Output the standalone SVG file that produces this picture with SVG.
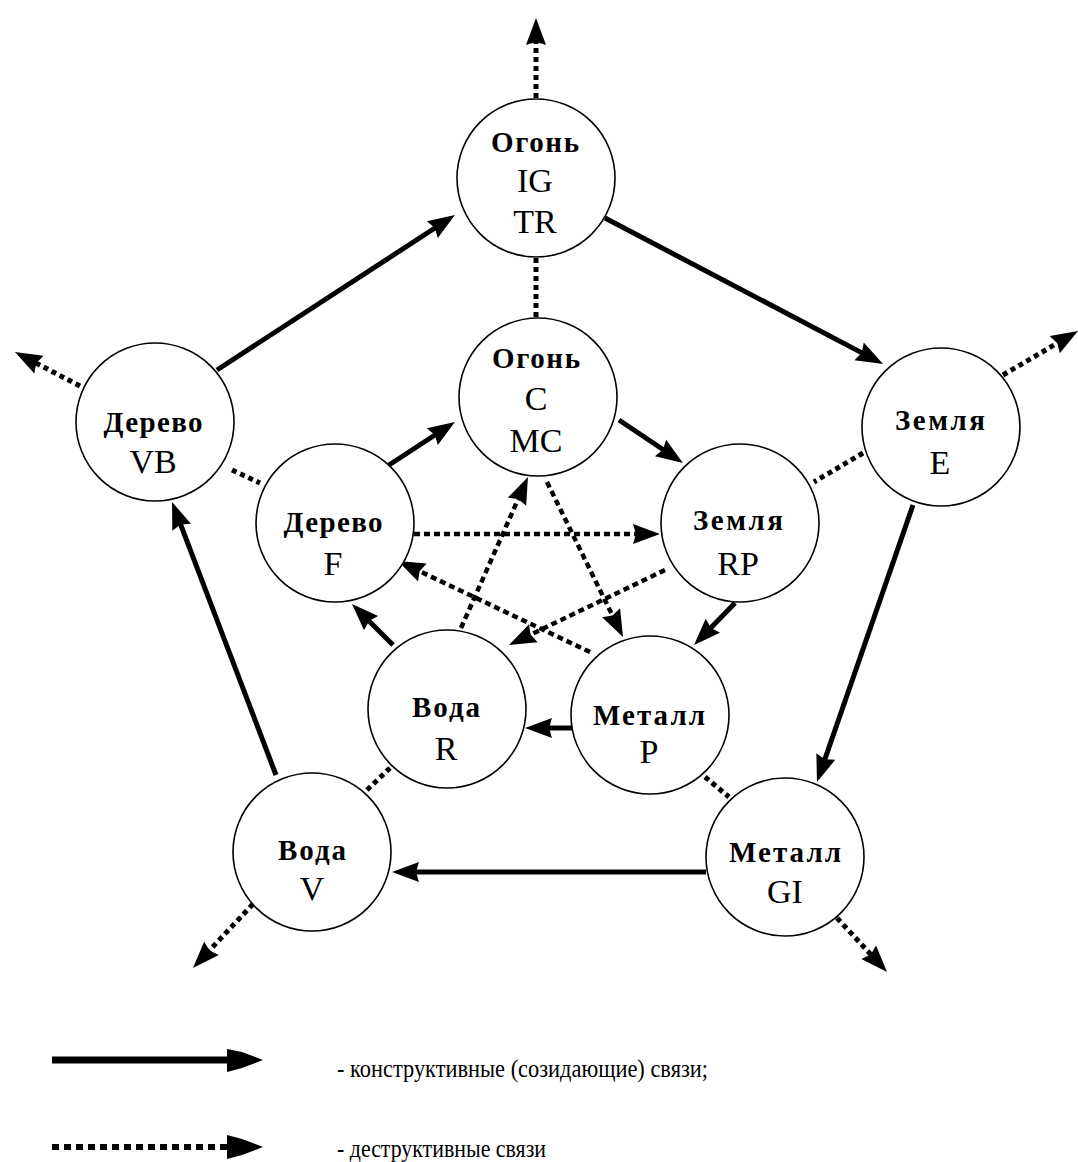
<svg xmlns="http://www.w3.org/2000/svg" width="1078" height="1162" viewBox="0 0 1078 1162">
<style>
.node circle{fill:#fff;stroke:#000;stroke-width:1.6}
.nm{font-family:"Liberation Serif","DejaVu Serif",serif;font-weight:bold;font-size:29px;text-anchor:middle;fill:#000}
.cd{font-family:"Liberation Serif","DejaVu Serif",serif;font-size:34px;text-anchor:middle;fill:#000}
.lg{font-family:"Liberation Serif","DejaVu Serif",serif;font-size:25px;fill:#000}
.s{stroke:#000;stroke-width:5;fill:none;marker-end:url(#ah)}
.d{stroke:#000;stroke-width:5;fill:none;stroke-dasharray:5 4}
.da{stroke:#000;stroke-width:5;fill:none;stroke-dasharray:5 4;marker-end:url(#ah)}
.di{stroke:#000;stroke-width:4.5;fill:none;stroke-dasharray:6 4;marker-end:url(#ah)}
</style>
<defs>
<marker id="ah" viewBox="-30 -12 32 24" refX="-12" refY="0" markerWidth="32" markerHeight="24" markerUnits="userSpaceOnUse" orient="auto">
<path d="M0,0 L-27,-10 L-24,0 L-27,10 Z" fill="#000"/>
</marker>
</defs>
<rect width="1078" height="1162" fill="#fff"/>
<g id="connectors">
<line class="s" x1="217" y1="370" x2="444.9" y2="221.5"/>
<line class="s" x1="605" y1="218" x2="872.4" y2="358.4"/>
<line class="s" x1="913" y1="505" x2="820.9" y2="770.7"/>
<line class="s" x1="706" y1="872" x2="404" y2="872"/>
<line class="s" x1="276" y1="775" x2="176.3" y2="513.2"/>
<line class="s" x1="389" y1="465" x2="444.9" y2="428.5"/>
<line class="s" x1="619" y1="420" x2="673" y2="456.3"/>
<line class="s" x1="735" y1="603" x2="702.4" y2="636.4"/>
<line class="s" x1="573" y1="728" x2="537" y2="728"/>
<line class="s" x1="393" y1="645" x2="360.5" y2="612.5"/>
<line class="di" x1="414" y1="534" x2="648" y2="534"/>
<line class="di" x1="665" y1="570" x2="519.8" y2="639.8"/>
<line class="di" x1="461" y1="628" x2="523.1" y2="488"/>
<line class="di" x1="547" y1="482" x2="617.7" y2="626.2"/>
<line class="di" x1="590" y1="652" x2="408.8" y2="566.1"/>
<line class="d" x1="536" y1="258" x2="536" y2="318"/>
<line class="d" x1="232" y1="470" x2="260" y2="483"/>
<line class="d" x1="863" y1="453" x2="814" y2="482"/>
<line class="d" x1="367" y1="790" x2="390" y2="768"/>
<line class="d" x1="705" y1="777" x2="729" y2="797"/>
<line class="da" x1="536" y1="98" x2="536" y2="30"/>
<line class="da" x1="80" y1="386" x2="25.6" y2="357.6"/>
<line class="da" x1="1003" y1="375" x2="1067.7" y2="337.1"/>
<line class="da" x1="253" y1="904" x2="201.2" y2="959.2"/>
<line class="da" x1="837" y1="918" x2="878.9" y2="963.2"/>
</g>
<g id="node-fire-outer" class="node"><circle cx="536" cy="178" r="79"/><text class="nm" x="535" y="152" textLength="88">Огонь</text><text class="cd" x="535" y="192">IG</text><text class="cd" x="535" y="233">TR</text></g>
<g id="node-fire-inner" class="node"><circle cx="538" cy="397" r="79"/><text class="nm" x="536" y="368" textLength="88">Огонь</text><text class="cd" x="536" y="410">C</text><text class="cd" x="536" y="452">MC</text></g>
<g id="node-wood-outer" class="node"><circle cx="155" cy="422" r="79"/><text class="nm" x="153" y="432" textLength="99">Дерево</text><text class="cd" x="153" y="473">VB</text></g>
<g id="node-wood-inner" class="node"><circle cx="335" cy="523" r="79"/><text class="nm" x="333" y="532" textLength="99">Дерево</text><text class="cd" x="333" y="575">F</text></g>
<g id="node-earth-outer" class="node"><circle cx="941" cy="427" r="79"/><text class="nm" x="940" y="430" textLength="90">Земля</text><text class="cd" x="940" y="474">E</text></g>
<g id="node-earth-inner" class="node"><circle cx="740" cy="523" r="79"/><text class="nm" x="738" y="530" textLength="90">Земля</text><text class="cd" x="738" y="575">RP</text></g>
<g id="node-water-outer" class="node"><circle cx="312" cy="852" r="79"/><text class="nm" x="312" y="860" textLength="68">Вода</text><text class="cd" x="312" y="900">V</text></g>
<g id="node-water-inner" class="node"><circle cx="447" cy="709" r="79"/><text class="nm" x="446" y="717" textLength="68">Вода</text><text class="cd" x="446" y="760">R</text></g>
<g id="node-metal-outer" class="node"><circle cx="785" cy="857" r="79"/><text class="nm" x="785" y="862" textLength="112">Металл</text><text class="cd" x="785" y="903">GI</text></g>
<g id="node-metal-inner" class="node"><circle cx="650" cy="715" r="79"/><text class="nm" x="649" y="725" textLength="112">Металл</text><text class="cd" x="649" y="763">P</text></g>
<g id="legend">
<line x1="52" y1="1060" x2="230" y2="1060" stroke="#000" stroke-width="7"/>
<path d="M227,1049 L242,1052 L263,1060 L242,1068 L227,1072 Z" fill="#000"/>
<line x1="52" y1="1147" x2="230" y2="1147" stroke="#000" stroke-width="6" stroke-dasharray="7 5"/>
<path d="M227,1135 L242,1139 L263,1147 L242,1155 L227,1159 Z" fill="#000"/>
<text class="lg" x="337" y="1077" textLength="371" lengthAdjust="spacingAndGlyphs">- конструктивные (созидающие) связи;</text>
<text class="lg" x="337" y="1157" textLength="209" lengthAdjust="spacingAndGlyphs">- деструктивные связи</text>
</g>
</svg>
